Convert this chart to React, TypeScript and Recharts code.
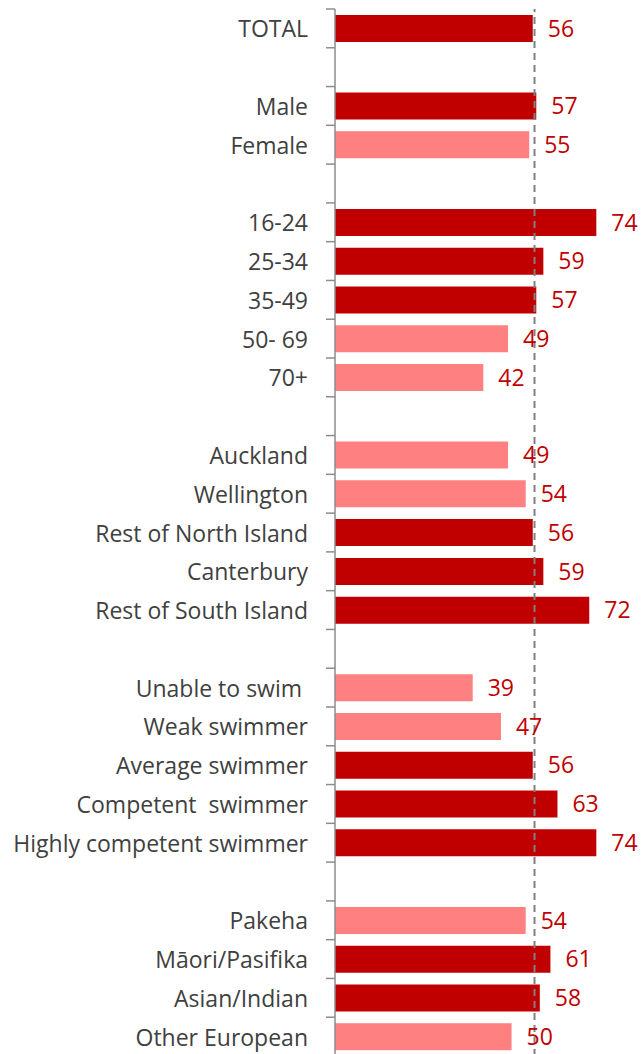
import React from "react";
import { BarChart, Bar, XAxis, YAxis, Cell, LabelList, ReferenceLine } from "recharts";

if (typeof document !== "undefined") {
  document.body.style.margin = "0";
  document.body.style.overflow = "hidden";
}

const LABELS = [
  "TOTAL",
  "",
  "Male",
  "Female",
  "",
  "16-24",
  "25-34",
  "35-49",
  "50- 69",
  "70+",
  "",
  "Auckland",
  "Wellington",
  "Rest of North Island",
  "Canterbury",
  "Rest of South Island",
  "",
  "Unable to swim ",
  "Weak swimmer",
  "Average swimmer",
  "Competent  swimmer",
  "Highly competent swimmer",
  "",
  "Pakeha",
  "Māori/Pasifika",
  "Asian/Indian",
  "Other European",
];

const VALUES: (number | null)[] = [
  56, null, 57, 55, null, 74, 59, 57, 49, 42, null, 49, 54, 56, 59, 72, null, 39, 47, 56, 63, 74, null, 54,
  61, 58, 50,
];

// d = dark red, l = light pink
const SHADES = [
  "d", "", "d", "l", "", "d", "d", "d", "l", "l", "", "l", "l", "d", "d", "d", "", "l", "l", "d", "d", "d", "",
  "l", "d", "d", "l",
];

const AVERAGE_LINE = 56.5;

const DARK = "#C00000";
const LIGHT = "#FF8080";
const AXIS = "#8C8C8C";
const FONT = "'Open Sans', Lato, sans-serif";

const W = 644;
const H = 1054;
const TOP = 9;
const BOTTOM = -2;
const BAND = (H - TOP - BOTTOM) / LABELS.length;

const data = LABELS.map((label, i) => ({
  id: `r${i}`,
  label,
  value: VALUES[i],
  shade: SHADES[i],
}));

function CategoryTick(props: any) {
  const { x, y, index } = props;
  const top = y - BAND / 2;
  return (
    <g>
      <line x1={x - 9} x2={x} y1={top} y2={top} stroke={AXIS} strokeWidth={1.5} />
      <text
        x={x - 27}
        y={y}
        textAnchor="end"
        dominantBaseline="central"
        fill="#404040"
        fontSize={23}
        fontFamily={FONT}
        style={{ whiteSpace: "pre" }}
      >
        {LABELS[index]}
      </text>
    </g>
  );
}

export default function App() {
  return (
    <BarChart
      width={W}
      height={H}
      data={data}
      layout="vertical"
      margin={{ top: TOP, right: 0, bottom: BOTTOM, left: 0 }}
    >
      <XAxis type="number" hide domain={[0, 87.5]} />
      <YAxis
        type="category"
        dataKey="id"
        width={335}
        tickSize={0}
        tickMargin={0}
        tickLine={false}
        axisLine={{ stroke: AXIS, strokeWidth: 1.5 }}
        tick={<CategoryTick />}
        interval={0}
      />
      <Bar dataKey="value" barSize={27} isAnimationActive={false}>
        {data.map((d, i) => (
          <Cell key={i} fill={d.shade === "l" ? LIGHT : DARK} />
        ))}
        <LabelList
          dataKey="value"
          position="right"
          offset={15}
          fill={DARK}
          fontSize={23}
          fontFamily={FONT}
        />
      </Bar>
      <ReferenceLine x={AVERAGE_LINE} stroke="#808080" strokeWidth={2} strokeDasharray="7 5" />
    </BarChart>
  );
}
